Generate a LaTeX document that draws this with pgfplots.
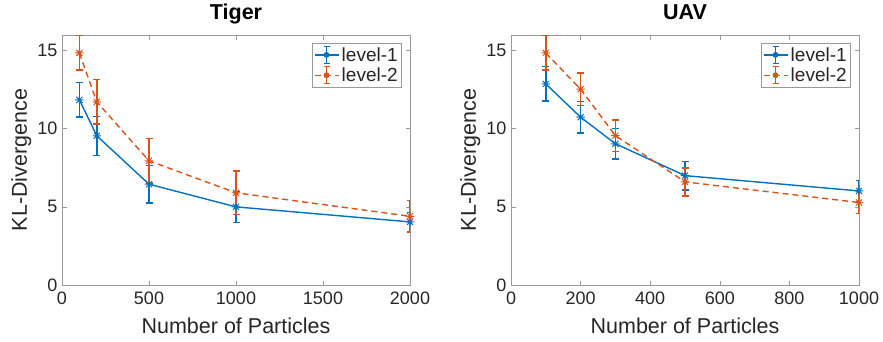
\documentclass[border=0pt]{standalone}
\usepackage{pgfplots}
\pgfplotsset{compat=1.18}
\usepackage{fontspec}
\setmainfont{Liberation Sans}
\definecolor{mblue}{rgb}{0,0.447,0.741}
\definecolor{morange}{rgb}{0.85,0.325,0.098}
\definecolor{mtext}{rgb}{0.15,0.15,0.15}
\pgfdeclareplotmark{mstar}{%
  \pgfpathmoveto{\pgfqpoint{-\pgfplotmarksize}{0pt}}\pgfpathlineto{\pgfqpoint{\pgfplotmarksize}{0pt}}%
  \pgfpathmoveto{\pgfqpoint{0pt}{-\pgfplotmarksize}}\pgfpathlineto{\pgfqpoint{0pt}{\pgfplotmarksize}}%
  \pgfpathmoveto{\pgfqpoint{-0.707\pgfplotmarksize}{-0.707\pgfplotmarksize}}\pgfpathlineto{\pgfqpoint{0.707\pgfplotmarksize}{0.707\pgfplotmarksize}}%
  \pgfpathmoveto{\pgfqpoint{-0.707\pgfplotmarksize}{0.707\pgfplotmarksize}}\pgfpathlineto{\pgfqpoint{0.707\pgfplotmarksize}{-0.707\pgfplotmarksize}}%
  \pgfusepathqstroke}
\pgfplotsset{
  mystyle/.style={
    scale only axis, width=348pt, height=250pt,
    ymin=0, ymax=16, ytick={0,5,10,15},
    axis line style={black!40, line width=0.6pt},
    tick style={black!40, line width=0.6pt},
    tick align=inside, major tick length=4.5pt,
    tick label style={font=\fontsize{18}{20}\selectfont, text=mtext},
    /pgf/number format/assume math mode=true,
    /pgf/number format/1000 sep={},
    xticklabel style={yshift=-3pt},
    yticklabel style={xshift=-1pt},
    label style={font=\fontsize{21.5}{24}\selectfont, text=mtext},
    xlabel style={at={(axis description cs:0.5,-0.192)}, anchor=base},
    ylabel style={at={(axis description cs:-0.1006,0.5)}, anchor=base},
    title style={font=\fontsize{21.5}{24}\selectfont\bfseries, at={(axis description cs:0.5,1.04)}, anchor=base},
    legend style={at={(0.977,0.968)}, anchor=north east, draw=black!40, line width=0.6pt,
      font=\fontsize{19}{22}\selectfont, text=mtext, inner sep=1.5pt, row sep=0pt,
      nodes={inner sep=2.5pt}},
    legend cell align=left,
    legend image code/.code={
      \draw[#1] (0pt,0pt) -- (24pt,0pt);
      \draw[#1,solid] (12pt,-8.5pt) -- (12pt,8.5pt);
      \draw[#1,solid] (9pt,-8.5pt) -- (15pt,-8.5pt);
      \draw[#1,solid] (9pt,8.5pt) -- (15pt,8.5pt);
      \fill[#1,solid] (12pt,0pt) circle (2.2pt);
    },
    every axis plot/.append style={line width=1.4pt, mark=mstar, mark size=4.3pt,
      mark options={solid, line width=1pt},
      error bars/y dir=both, error bars/y explicit,
      error bars/error bar style={solid, line width=1.4pt},
      error bars/error mark options={rotate=90, mark size=3.5pt, solid, line width=1.4pt}},
  }
}
\begin{document}
\begin{tikzpicture}[x=1pt,y=1pt]
\path[use as bounding box] (0,0) rectangle (883,341);
\begin{axis}[mystyle, at={(62pt,56pt)}, anchor=south west,
  xmin=0, xmax=2000, xtick={0,500,1000,1500,2000},
  title={Tiger}, xlabel={Number of Particles}, ylabel={KL-Divergence}]
\addplot[color=mblue] table[x=x,y=y,y error=e] {
x y e
100 11.85 1.1
200 9.55 1.25
500 6.45 1.2
1000 5.0 1.0
2000 4.04 0.6
};
\addlegendentry{level-1}
\addplot[color=morange, dash pattern=on 6pt off 4pt] table[x=x,y=y,y error=e] {
x y e
100 14.85 1.1
200 11.72 1.42
500 7.95 1.42
1000 5.9 1.4
2000 4.4 1.0
};
\addlegendentry{level-2}
\end{axis}
\begin{axis}[mystyle, at={(511pt,56pt)}, anchor=south west,
  xmin=0, xmax=1000, xtick={0,200,400,600,800,1000},
  title={UAV}, xlabel={Number of Particles}, ylabel={KL-Divergence}]
\addplot[color=mblue] table[x=x,y=y,y error=e] {
x y e
100 12.87 1.1
200 10.74 1.0
300 9.04 0.98
500 7.0 0.92
1000 6.02 0.68
};
\addlegendentry{level-1}
\addplot[color=morange, dash pattern=on 6pt off 4pt] table[x=x,y=y,y error=e] {
x y e
100 14.85 1.1
200 12.53 1.04
300 9.56 1.0
500 6.6 0.9
1000 5.28 0.7
};
\addlegendentry{level-2}
\end{axis}
\end{tikzpicture}
\end{document}
